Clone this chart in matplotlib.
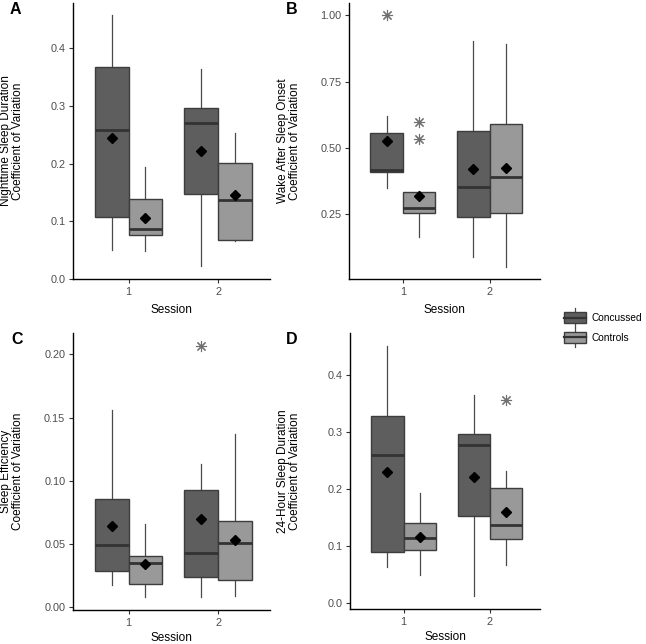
import matplotlib
matplotlib.use("Agg")
import matplotlib.pyplot as plt
from matplotlib.patches import Rectangle, Patch
from matplotlib.lines import Line2D
from matplotlib.legend_handler import HandlerBase
from matplotlib.ticker import FormatStrFormatter

plt.rcParams['font.family'] = ['Liberation Sans', 'DejaVu Sans']

# sessions and groups
sessions = [1, 2]
groups = ["Concussed", "Controls"]

# box summaries per session: [whisker low, Q1, median, Q3, whisker high]
# A: nighttime sleep duration CV
a_concussed = [[0.050, 0.108, 0.258, 0.368, 0.458], [0.022, 0.148, 0.270, 0.296, 0.363]]
a_controls = [[0.048, 0.076, 0.086, 0.138, 0.194], [0.065, 0.068, 0.136, 0.201, 0.253]]
a_means = [[0.245, 0.221], [0.105, 0.145]]
a_outliers = [[[], []], [[], []]]

# B: wake after sleep onset CV
b_concussed = [[0.350, 0.408, 0.418, 0.556, 0.621], [0.090, 0.239, 0.352, 0.563, 0.902]]
b_controls = [[0.163, 0.254, 0.273, 0.333, 0.339], [0.053, 0.255, 0.390, 0.592, 0.893]]
b_means = [[0.528, 0.421], [0.319, 0.423]]
b_outliers = [[[1.00], []], [[0.598, 0.534], []]]

# C: sleep efficiency CV
c_concussed = [[0.0172, 0.0285, 0.0488, 0.0852, 0.156], [0.0074, 0.0232, 0.0425, 0.0926, 0.1134]]
c_controls = [[0.0074, 0.0180, 0.0343, 0.0403, 0.0654], [0.0087, 0.0211, 0.0509, 0.0680, 0.137]]
c_means = [[0.0640, 0.0694], [0.0338, 0.0527]]
c_outliers = [[[], [0.207]], [[], []]]

# D: 24-hour sleep duration CV
d_concussed = [[0.064, 0.089, 0.259, 0.327, 0.451], [0.0116, 0.153, 0.2765, 0.296, 0.364]]
d_controls = [[0.049, 0.093, 0.1135, 0.140, 0.193], [0.067, 0.112, 0.136, 0.201, 0.2316]]
d_means = [[0.229, 0.221], [0.116, 0.1595]]
d_outliers = [[[], []], [[], [0.355]]]

fills = {"Concussed": "#5e5e5e", "Controls": "#999999"}
edge = "#3d3d3d"
offsets = {"Concussed": -0.1875, "Controls": 0.1875}

fig = plt.figure(figsize=(6.46, 6.44), dpi=100)

W, H = 646.0, 644.0
def px_axes(l, t, r, b):
    return fig.add_axes([l / W, 1 - b / H, (r - l) / W, (b - t) / H])

ax_a = px_axes(73, 3, 270, 279)
ax_b = px_axes(349, 3, 540, 279)
ax_c = px_axes(73, 333, 270, 610)
ax_d = px_axes(350, 333, 540, 609)


def draw_panel(ax, conc, ctrl, means, outs, label_gap=25.0):
    stats, pos, cols = [], [], []
    for i, s in enumerate(sessions):
        for g, summ, m, o in [("Concussed", conc, means[0], outs[0]),
                              ("Controls", ctrl, means[1], outs[1])]:
            lo, q1, med, q3, hi = summ[i]
            stats.append(dict(whislo=lo, q1=q1, med=med, q3=q3, whishi=hi,
                              mean=m[i], fliers=o[i]))
            pos.append(s + offsets[g])
            cols.append(fills[g])
    bp = ax.bxp(stats, positions=pos, widths=0.375, patch_artist=True,
                showcaps=False, showmeans=True, manage_ticks=False,
                boxprops=dict(edgecolor=edge, linewidth=1.0),
                whiskerprops=dict(color="#4a4a4a", linewidth=0.9),
                medianprops=dict(color="#333333", linewidth=2.0, solid_capstyle="butt"),
                meanprops=dict(marker="D", markerfacecolor="black", markeredgecolor="black",
                               markersize=5.5),
                flierprops=dict(marker=(8, 2, 0), markeredgecolor="#707070",
                                markerfacecolor="none", markersize=8, markeredgewidth=0.8))
    for patch, c in zip(bp["boxes"], cols):
        patch.set_facecolor(c)
    for w in bp["whiskers"]:
        w.set_zorder(1)

    ax.set_xlim(0.38, 2.58)
    ax.set_xticks(sessions)
    ax.set_xticklabels([str(s) for s in sessions])
    for side in ["top", "right"]:
        ax.spines[side].set_visible(False)
    for side in ["left", "bottom"]:
        ax.spines[side].set_linewidth(1.0)
    ax.tick_params(length=3, width=0.8, color="#333333", labelcolor="#4d4d4d",
                   labelsize=7.8, pad=2.5)
    ax.set_xlabel("Session", fontsize=8.5)
    h = ax.get_position().height * H
    ax.xaxis.set_label_coords(0.5, -label_gap / h)


draw_panel(ax_a, a_concussed, a_controls, a_means, a_outliers)
ax_a.set_ylim(0.0, 0.478)
ax_a.set_yticks([0.0, 0.1, 0.2, 0.3, 0.4])
ax_a.yaxis.set_major_formatter(FormatStrFormatter("%.1f"))
ax_a.set_ylabel("Nighttime Sleep Duration\nCoefficient of Variation", fontsize=8.5, linespacing=1.0)
ax_a.yaxis.set_label_coords(-0.25, 0.5)

draw_panel(ax_b, b_concussed, b_controls, b_means, b_outliers)
ax_b.set_ylim(0.006, 1.047)
ax_b.set_yticks([0.25, 0.50, 0.75, 1.00])
ax_b.yaxis.set_major_formatter(FormatStrFormatter("%.2f"))
ax_b.set_ylabel("Wake After Sleep Onset\nCoefficient of Variation", fontsize=8.5, linespacing=1.0)
ax_b.yaxis.set_label_coords(-0.251, 0.5)

draw_panel(ax_c, c_concussed, c_controls, c_means, c_outliers, label_gap=22.0)
ax_c.set_ylim(-0.0026, 0.217)
ax_c.set_yticks([0.0, 0.05, 0.10, 0.15, 0.20])
ax_c.yaxis.set_major_formatter(FormatStrFormatter("%.2f"))
ax_c.set_ylabel("Sleep Efficiency\nCoefficient of Variation", fontsize=8.5, linespacing=1.0)
ax_c.yaxis.set_label_coords(-0.25, 0.5)

draw_panel(ax_d, d_concussed, d_controls, d_means, d_outliers, label_gap=22.0)
ax_d.set_ylim(-0.0104, 0.473)
ax_d.set_yticks([0.0, 0.1, 0.2, 0.3, 0.4])
ax_d.yaxis.set_major_formatter(FormatStrFormatter("%.1f"))
ax_d.set_ylabel("24-Hour Sleep Duration\nCoefficient of Variation", fontsize=8.5, linespacing=1.0)
ax_d.yaxis.set_label_coords(-0.258, 0.5)

# panel letters
for lab, x, y in [("A", 10, 10), ("B", 286, 10), ("C", 11, 340), ("D", 286, 340)]:
    fig.text(x / W, 1 - y / H, lab, fontsize=11.5, fontweight="bold", va="center", ha="left")


# legend keys drawn like small boxplots
class BoxHandler(HandlerBase):
    def create_artists(self, legend, orig_handle, xdescent, ydescent, width, height, fontsize, trans):
        x0, y0 = -xdescent, -ydescent
        cx = x0 + width / 2
        whisk = Line2D([cx, cx], [y0, y0 + height], color="#4a4a4a", lw=0.9, transform=trans)
        rect = Rectangle((x0, y0 + 0.23 * height), width, 0.54 * height,
                         facecolor=orig_handle.get_facecolor(), edgecolor=edge, lw=1.0,
                         transform=trans)
        med = Line2D([x0, x0 + width], [y0 + height / 2] * 2, color="#333333", lw=1.6,
                     transform=trans)
        return [whisk, rect, med]


handles = [Patch(facecolor=fills[g]) for g in groups]
fig.legend(handles, groups, handler_map={Patch: BoxHandler()},
           loc="center left", bbox_to_anchor=(564 / W, 1 - 327.5 / H),
           frameon=False, fontsize=7.3, handlelength=2.15, handleheight=2.5,
           handletextpad=0.6, labelspacing=0.1, borderpad=0, borderaxespad=0)

fig.savefig("out.png", dpi=100)
